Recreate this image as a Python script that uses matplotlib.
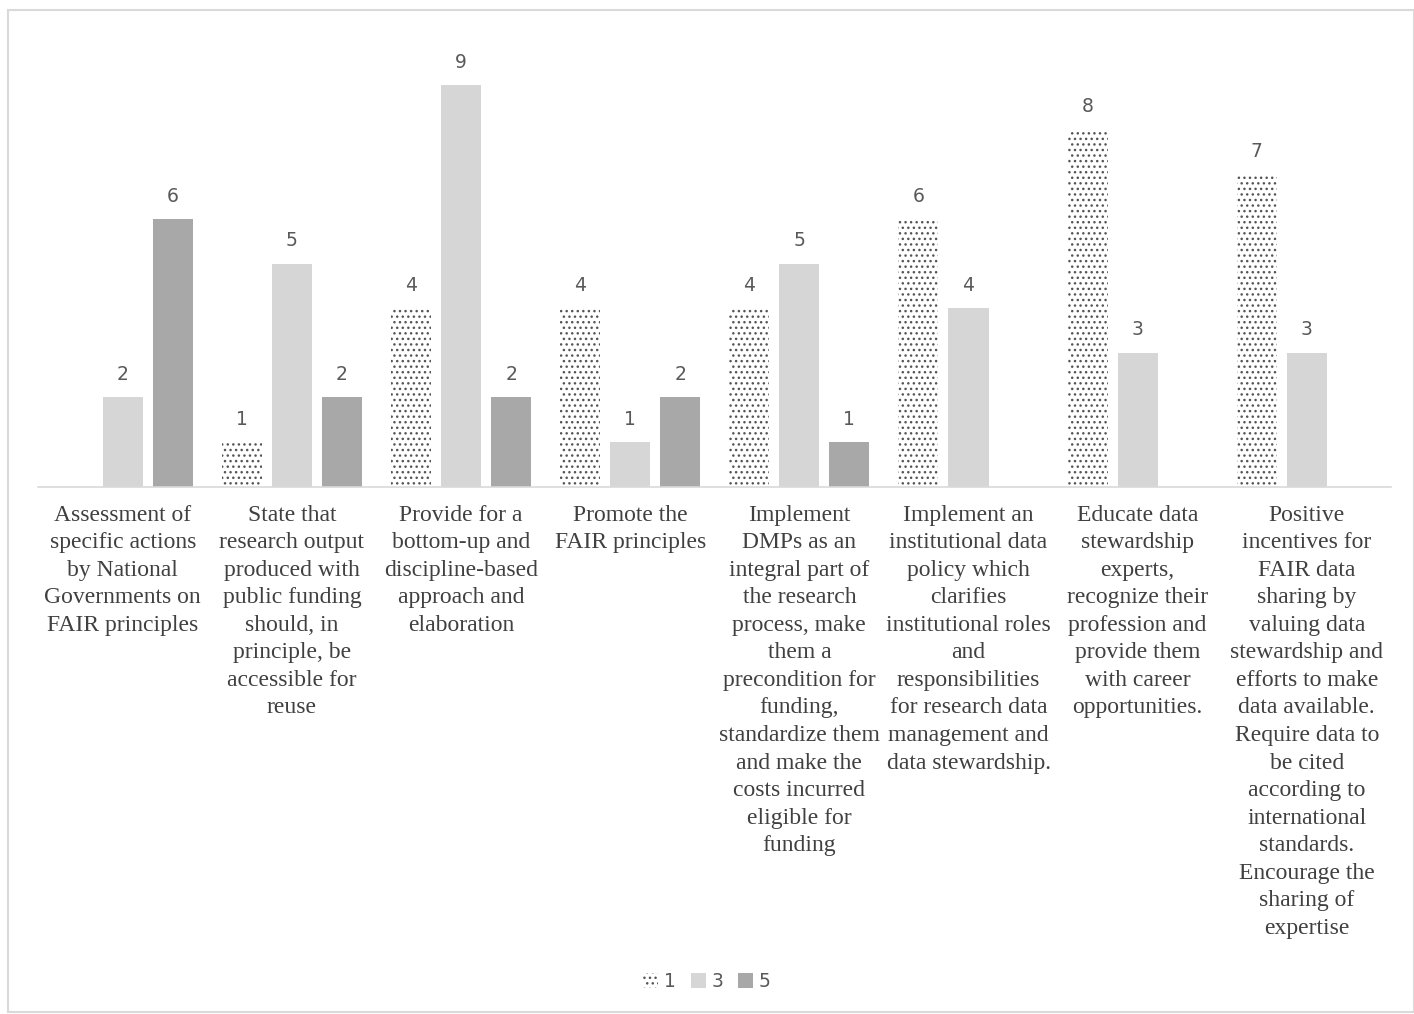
import matplotlib.pyplot as plt
import numpy as np
from matplotlib.patches import Patch, Rectangle
import matplotlib.transforms as mtransforms

categories = [
    "Assessment of\nspecific actions\nby National\nGovernments on\nFAIR principles",
    "State that\nresearch output\nproduced with\npublic funding\nshould, in\nprinciple, be\naccessible for\nreuse",
    "Provide for a\nbottom-up and\ndiscipline-based\napproach and\nelaboration",
    "Promote the\nFAIR principles",
    "Implement\nDMPs as an\nintegral part of\nthe research\nprocess, make\nthem a\nprecondition for\nfunding,\nstandardize them\nand make the\ncosts incurred\neligible for\nfunding",
    "Implement an\ninstitutional data\npolicy which\nclarifies\ninstitutional roles\nand\nresponsibilities\nfor research data\nmanagement and\ndata stewardship.",
    "Educate data\nstewardship\nexperts,\nrecognize their\nprofession and\nprovide them\nwith career\nopportunities.",
    "Positive\nincentives for\nFAIR data\nsharing by\nvaluing data\nstewardship and\nefforts to make\ndata available.\nRequire data to\nbe cited\naccording to\ninternational\nstandards.\nEncourage the\nsharing of\nexpertise",
]
series_names = ["1", "3", "5"]
vals_1 = [0, 1, 4, 4, 4, 6, 8, 7]
vals_3 = [2, 5, 9, 1, 5, 4, 3, 3]
vals_5 = [6, 2, 2, 2, 1, 0, 0, 0]

plt.rcParams['hatch.linewidth'] = 1.0
fig = plt.figure(figsize=(14.14, 10.14), dpi=100)
ax = fig.add_axes([0.027, 0.52, 0.957, 0.44])

x = np.arange(len(categories))
w = 0.237
off = 0.296
label_color = '#595959'

# series "1" is drawn as a dotted pattern, the others as flat greys
styles = [
    dict(facecolor='white', edgecolor='#555555', hatch='...', linewidth=0),
    dict(facecolor='#d6d6d6', edgecolor='#d6d6d6', linewidth=0),
    dict(facecolor='#a8a8a8', edgecolor='#a8a8a8', linewidth=0),
]
for i, vals in enumerate([vals_1, vals_3, vals_5]):
    xs = x + (i - 1) * off
    ax.bar(xs, vals, width=w, **styles[i])
    for xi, v in zip(xs, vals):
        if v > 0:
            ax.text(xi, v + 0.3, str(v), ha='center', va='bottom',
                    fontsize=13.5, color=label_color, family='DejaVu Sans')

ax.set_xlim(-0.5, len(categories) - 0.5)
ax.set_ylim(0, 10)
for s in ['top', 'right', 'left']:
    ax.spines[s].set_visible(False)
ax.spines['bottom'].set_color('#d9d9d9')
ax.spines['bottom'].set_linewidth(1.2)
ax.set_yticks([])
ax.set_xticks([])

trans = mtransforms.blended_transform_factory(ax.transData, ax.transAxes)
for xi, lab in zip(x, categories):
    ax.text(xi, -0.04, lab, transform=trans, ha='center', va='top',
            fontsize=17, family='Liberation Serif', color='#404040',
            linespacing=1.41)

handles = [Patch(**styles[0]), Patch(**styles[1]), Patch(**styles[2])]
leg = fig.legend(handles, series_names, loc='center', bbox_to_anchor=(0.5, 0.032),
                 ncol=3, frameon=False, fontsize=13.5, handlelength=0.8,
                 handleheight=0.8, handletextpad=0.3, columnspacing=0.8)
for t in leg.get_texts():
    t.set_color(label_color)

fig.patches.append(Rectangle((8 / 1414, 0.002), 1 - 8 / 1414, 1 - 10 / 1014 - 0.002,
                             transform=fig.transFigure, fill=False,
                             edgecolor='#d9d9d9', linewidth=1.5))

fig.savefig('out.png', dpi=100)
